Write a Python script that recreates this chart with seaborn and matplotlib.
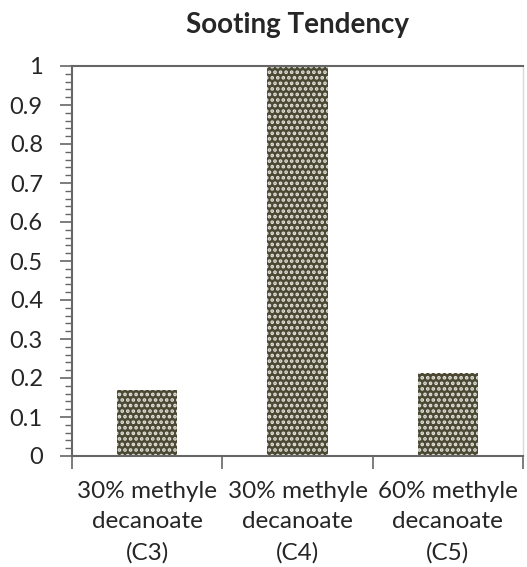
import matplotlib
matplotlib.use("Agg")
import matplotlib.pyplot as plt
import seaborn as sns
import pandas as pd
import numpy as np
from matplotlib.ticker import MultipleLocator, FixedLocator, NullFormatter

categories = ["30% methyle\ndecanoate\n(C3)", "30% methyle\ndecanoate\n(C4)", "60% methyle\ndecanoate\n(C5)"]
values = [0.168, 1.0, 0.212]
yticks = [0, 0.1, 0.2, 0.3, 0.4, 0.5, 0.6, 0.7, 0.8, 0.9, 1]
ytick_labels = ["0", "0.1", "0.2", "0.3", "0.4", "0.5", "0.6", "0.7", "0.8", "0.9", "1"]
title = "Sooting Tendency"

sns.set_style("white")
plt.rcParams['font.family'] = ['Lato', 'DejaVu Sans']
plt.rcParams['hatch.linewidth'] = 1.8

df = pd.DataFrame({"cat": categories, "val": values})

fig = plt.figure(figsize=(5.27, 5.67), dpi=100)
ax = fig.add_axes([72/527, 1-456/567, (523-72)/527, (456-66)/567])

sns.barplot(data=df, x="cat", y="val", ax=ax, color="#4b4934", saturation=1,
            width=0.4)
for p in ax.patches:
    p.set_facecolor("#4b4934")
    p.set_edgecolor("#e4e3da")
    p.set_linewidth(0)
    p.set_hatch("...")

ax.set_xlim(-0.5, 2.5)
ax.set_ylim(0, 1)
ax.set_xlabel("")
ax.set_ylabel("")

ax.yaxis.set_major_locator(FixedLocator(yticks))
ax.set_yticklabels(ytick_labels)
ax.yaxis.set_minor_locator(MultipleLocator(0.02))
ax.tick_params(axis="y", which="major", direction="out", length=9, width=1.2,
               color="#666666", labelsize=17, pad=12, left=True)
ax.tick_params(axis="y", which="minor", direction="out", length=5, width=1,
               color="#666666", left=True)

ax.xaxis.set_major_locator(FixedLocator([-0.5, 0.5, 1.5, 2.5]))
ax.xaxis.set_major_formatter(NullFormatter())
ax.xaxis.set_minor_locator(FixedLocator([0, 1, 2]))
ax.set_xticklabels(categories, minor=True)
ax.tick_params(axis="x", which="major", direction="out", length=9, width=1.2,
               color="#666666", bottom=True)
ax.tick_params(axis="x", which="minor", length=0, labelsize=17.5, pad=18)
for lbl in ax.get_xticklabels(minor=True):
    lbl.set_horizontalalignment("center")
    lbl.set_linespacing(1.55)

for s in ["left", "bottom", "top"]:
    ax.spines[s].set_color("#666666")
    ax.spines[s].set_linewidth(1.5)
ax.spines["right"].set_color("#d9d9d9")
ax.spines["right"].set_linewidth(1)

ax.set_title(title, fontsize=20, fontweight="bold", pad=24)

fig.savefig("out.png", dpi=100)
